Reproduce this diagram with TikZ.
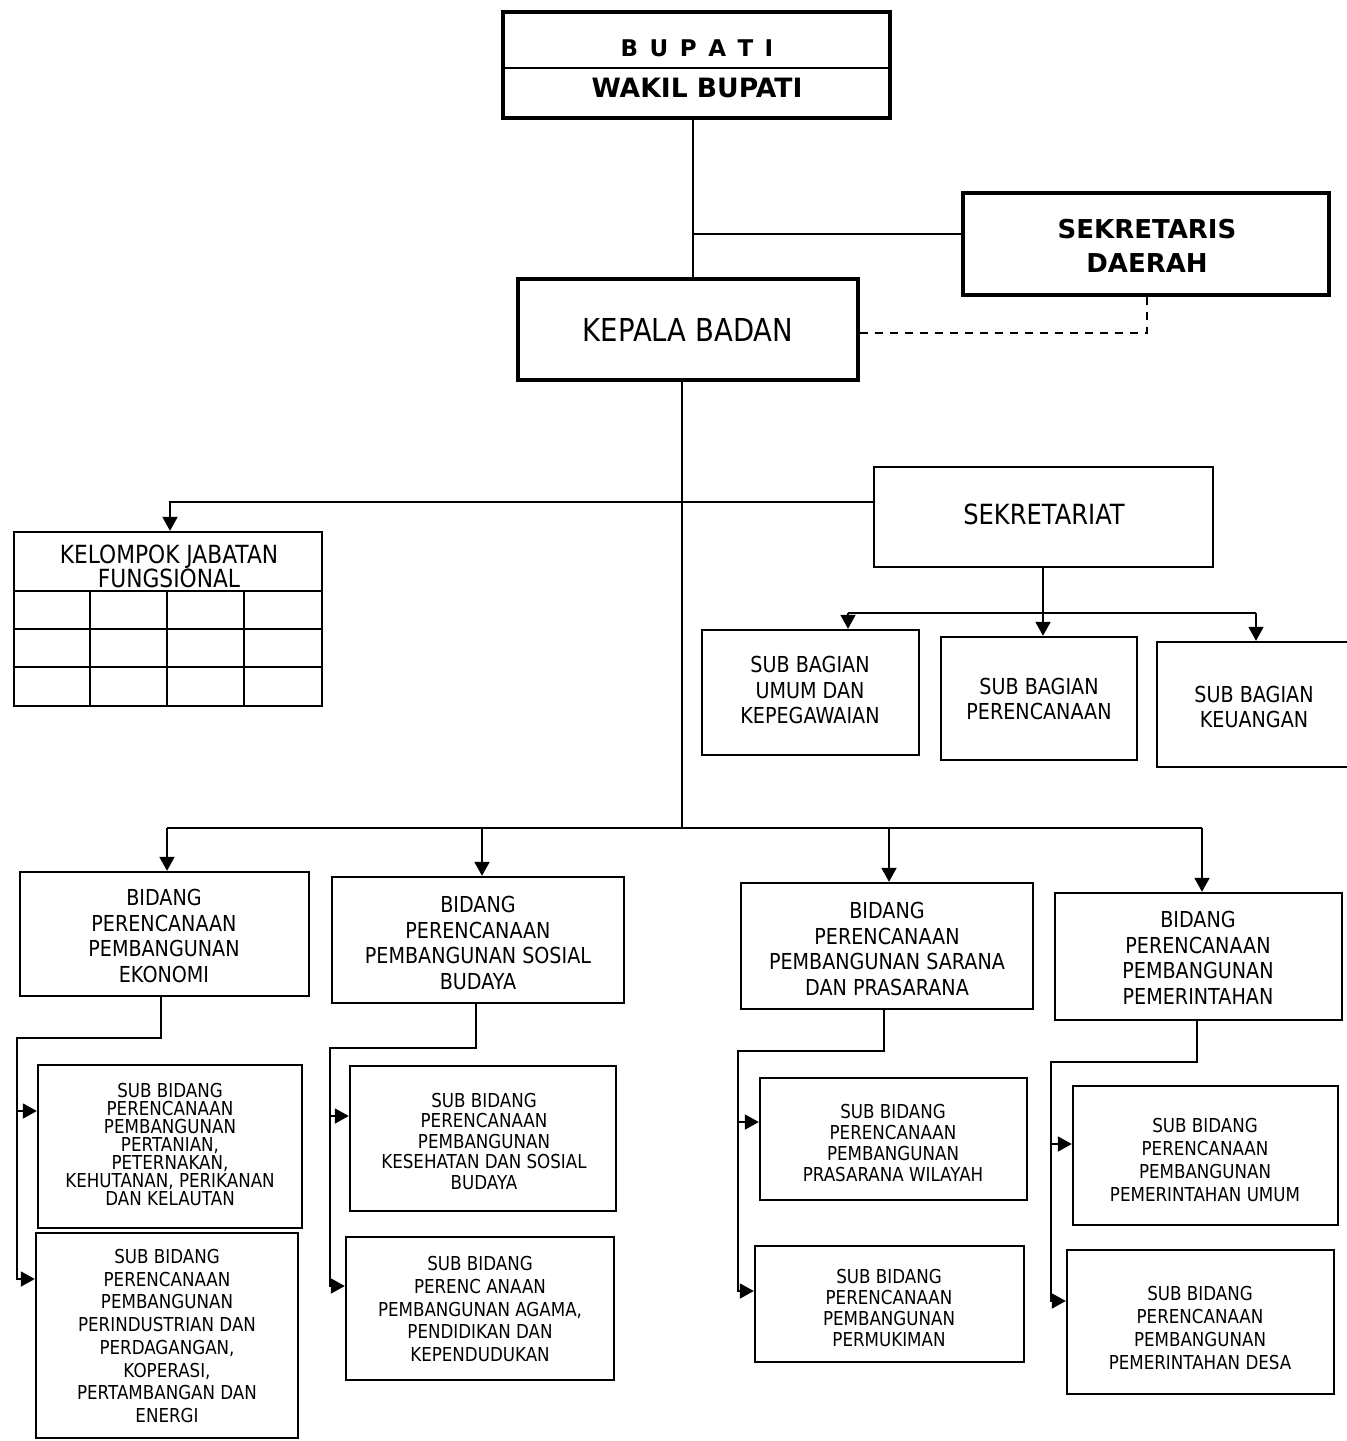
\documentclass[tikz,border=0pt]{standalone}
\usepackage{fontspec}
\setmainfont{DejaVu Sans}
\newfontfamily\narrow{DejaVu Sans}[FakeStretch=0.87]
\usetikzlibrary{arrows.meta,fit}
\begin{document}
\begin{tikzpicture}[x=0.5pt,y=-0.5pt,
  box/.style={draw, line width=1.2pt, inner sep=0pt},
  bigbox/.style={box, line width=1.8pt},
  link/.style={line width=0.95pt},
  arr/.style={link, -{Triangle[length=7pt,width=7.5pt]}},
  lbl/.style={align=center, inner sep=0pt},
  fbid/.style={font=\narrow\fontsize{11}{12.75}\selectfont},
  fbag/.style={font=\narrow\fontsize{11}{12.75}\selectfont},
  fsub/.style={font=\narrow\fontsize{9.6}{#1}\selectfont},
]
\useasboundingbox (0,0) rectangle (1346,1441);
\fill[white] (0,0) rectangle (1346,1441);

% --- top level ---
\node[bigbox, fit={(503,12) (890,118)}] (bupati) {};
\draw[line width=0.8pt] (bupati.west |- 0,68) -- (bupati.east |- 0,68);
\node[lbl, font=\bfseries\fontsize{11.5}{13}\selectfont] (tbup) at (697,48)
  {\spaceskip=0.5em B U P A T I};
\node[lbl, font=\bfseries\fontsize{13.3}{15}\selectfont] (twakil) at (697,88) {WAKIL BUPATI};

\node[bigbox, fit={(963,193) (1329,295)}] (sekda) {};
\node[lbl, font=\bfseries\fontsize{13}{17}\selectfont] (sekdat) at (1147,246) {SEKRETARIS\\DAERAH};
\node[bigbox, fit={(518,279) (858,380)}] (kepala) {};
\node[lbl, font=\narrow\fontsize{15.8}{18}\selectfont] (kepalat) at (688,330) {KEPALA BADAN};

\coordinate (j1) at (693,234);
\draw[link] (bupati.south -| j1) -- (kepala.north -| j1);
\draw[link] (j1) -- (sekda.west |- j1);
\coordinate (dk) at (1147,333);
\draw[line width=0.75pt, dash pattern=on 4pt off 3.5pt] (kepala.east |- dk) -- (dk) -- (sekda.south -| dk);

% --- secretariat and functional group ---
\node[box, fit={(874,467) (1213,567)}] (sekretariat) {};
\node[lbl, font=\narrow\fontsize{13.9}{16}\selectfont] (sekretariatt) at (1044,514) {SEKRETARIAT};
\node[box, fit={(14,532) (322,706)}] (kel) {};
\node[lbl, font=\narrow\fontsize{12.5}{12}\selectfont] (kelt) at (169,566) {KELOMPOK JABATAN\\FUNGSIONAL};
\begin{scope}[line width=1pt]
  \draw (kel.west |- 0,591) -- (kel.east |- 0,591);
  \draw (kel.west |- 0,629) -- (kel.east |- 0,629);
  \draw (kel.west |- 0,667) -- (kel.east |- 0,667);
  \foreach \cx in {90,167,244} \draw (\cx,591) -- (kel.south -| \cx,0);
\end{scope}

\coordinate (bus) at (682,828);
\coordinate (kj) at (170,502);
\draw[link] (kepala.south -| bus) -- (bus);
\draw[arr] (sekretariat.west |- kj) -- (kj) -- (kj |- kel.north);

% --- sub sections of the secretariat ---
\node[box, fit={(702,630) (919,755)}] (sb1) {};
\node[lbl, fbag] (sb1t) at (810,690) {SUB BAGIAN\\UMUM DAN\\KEPEGAWAIAN};
\node[box, fit={(941,637) (1137,760)}] (sb2) {};
\node[lbl, fbag] (sb2t) at (1039,699) {SUB BAGIAN\\PERENCANAAN};
\node[box, fit={(1157,642) (1352,767)}] (sb3) {};
\node[lbl, fbag] (sb3t) at (1254,707) {SUB BAGIAN\\KEUANGAN};

\coordinate (sx) at (1043,613);
\coordinate (sl) at (848,613);
\coordinate (sr) at (1256,613);
\draw[arr] (sekretariat.south -| sx) -- (sb2.north -| sx);
\draw[link] (sl) -- (sr);
\draw[arr] (sl) -- (sl |- sb1.north);
\draw[arr] (sr) -- (sr |- sb3.north);

% --- fields ---
\node[box, fit={(20,872) (309,996)}] (bd1) {};
\node[lbl, fbid] (bd1t) at (164,936) {BIDANG\\PERENCANAAN\\PEMBANGUNAN\\EKONOMI};
\node[box, fit={(332,877) (624,1003)}] (bd2) {};
\node[lbl, fbid] (bd2t) at (478,943) {BIDANG\\PERENCANAAN\\PEMBANGUNAN SOSIAL\\BUDAYA};
\node[box, fit={(741,883) (1033,1009)}] (bd3) {};
\node[lbl, fbid] (bd3t) at (887,949) {BIDANG\\PERENCANAAN\\PEMBANGUNAN SARANA\\DAN PRASARANA};
\node[box, fit={(1055,893) (1342,1020)}] (bd4) {};
\node[lbl, fbid] (bd4t) at (1198,958) {BIDANG\\PERENCANAAN\\PEMBANGUNAN\\PEMERINTAHAN};

\coordinate (b1) at (167,828);
\coordinate (b2) at (482,828);
\coordinate (b3) at (889,828);
\coordinate (b4) at (1202,828);
\draw[link] (b1) -- (b4);
\foreach \b/\d in {b1/bd1, b2/bd2, b3/bd3, b4/bd4}
  \draw[arr] (\b) -- (\b |- \d.north);

% --- sub fields ---
\node[box, fit={(38,1065) (302,1228)}] (s11) {};
\node[lbl, fsub=9] (s11t) at (170,1144)
  {SUB BIDANG\\PERENCANAAN\\PEMBANGUNAN\\PERTANIAN,\\PETERNAKAN,\\KEHUTANAN, PERIKANAN\\DAN KELAUTAN};
\node[box, fit={(36,1233) (298,1438)}] (s12) {};
\node[lbl, fsub=11.35] (s12t) at (167,1336)
  {SUB BIDANG\\PERENCANAAN\\PEMBANGUNAN\\PERINDUSTRIAN DAN\\PERDAGANGAN,\\KOPERASI,\\PERTAMBANGAN DAN\\ENERGI};
\node[box, fit={(350,1066) (616,1211)}] (s21) {};
\node[lbl, fsub=10.25] (s21t) at (484,1141)
  {SUB BIDANG\\PERENCANAAN\\PEMBANGUNAN\\KESEHATAN DAN SOSIAL\\BUDAYA};
\node[box, fit={(346,1237) (614,1380)}] (s22) {};
\node[lbl, fsub=11.4] (s22t) at (480,1309)
  {SUB BIDANG\\PERENC ANAAN\\PEMBANGUNAN AGAMA,\\PENDIDIKAN DAN\\KEPENDUDUKAN};
\node[box, fit={(760,1078) (1027,1200)}] (s31) {};
\node[lbl, fsub=10.35] (s31t) at (893,1143)
  {SUB BIDANG\\PERENCANAAN\\PEMBANGUNAN\\PRASARANA WILAYAH};
\node[box, fit={(755,1246) (1024,1362)}] (s32) {};
\node[lbl, fsub=10.35] (s32t) at (889,1308)
  {SUB BIDANG\\PERENCANAAN\\PEMBANGUNAN\\PERMUKIMAN};
\node[box, fit={(1073,1086) (1338,1225)}] (s41) {};
\node[lbl, fsub=11.35] (s41t) at (1205,1160)
  {SUB BIDANG\\PERENCANAAN\\PEMBANGUNAN\\PEMERINTAHAN UMUM};
\node[box, fit={(1067,1250) (1334,1394)}] (s42) {};
\node[lbl, fsub=11.5] (s42t) at (1200,1328)
  {SUB BIDANG\\PERENCANAAN\\PEMBANGUNAN\\PEMERINTAHAN DESA};

% connectors from each field to its sub fields
\coordinate (c1a) at (161,1038);  \coordinate (c1b) at (17,1038);
\coordinate (a11) at (17,1111);   \coordinate (a12) at (17,1279);
\coordinate (c2a) at (476,1048);  \coordinate (c2b) at (330,1048);
\coordinate (a21) at (330,1116);  \coordinate (a22) at (330,1286);
\coordinate (c3a) at (884,1051);  \coordinate (c3b) at (738,1051);
\coordinate (a31) at (738,1122);  \coordinate (a32) at (738,1291);
\coordinate (c4a) at (1197,1062); \coordinate (c4b) at (1051,1062);
\coordinate (a41) at (1051,1144); \coordinate (a42) at (1051,1301);

\draw[arr] (bd1.south -| c1a) -- (c1a) -- (c1b) -- (a12) -- (a12 -| s12.west);
\draw[arr] (a11) -- (a11 -| s11.west);
\draw[arr] (bd2.south -| c2a) -- (c2a) -- (c2b) -- (a22) -- (a22 -| s22.west);
\draw[arr] (a21) -- (a21 -| s21.west);
\draw[arr] (bd3.south -| c3a) -- (c3a) -- (c3b) -- (a32) -- (a32 -| s32.west);
\draw[arr] (a31) -- (a31 -| s31.west);
\draw[arr] (bd4.south -| c4a) -- (c4a) -- (c4b) -- (a42) -- (a42 -| s42.west);
\draw[arr] (a41) -- (a41 -| s41.west);
\end{tikzpicture}
\end{document}
